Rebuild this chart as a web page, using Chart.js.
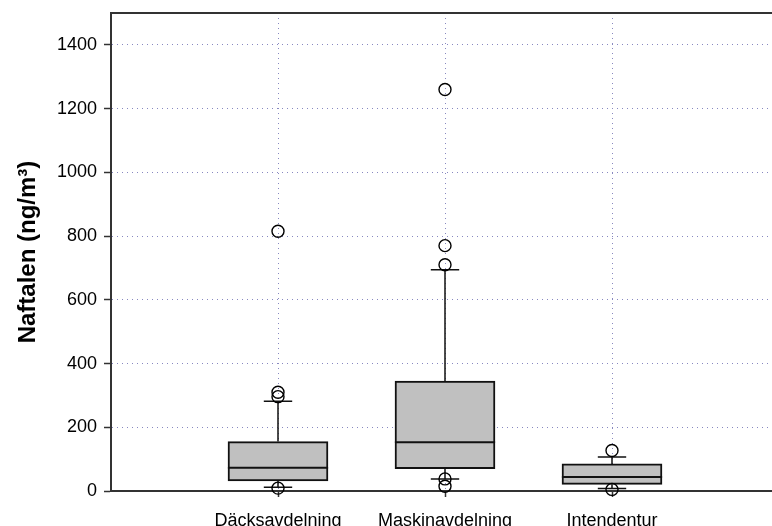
<!DOCTYPE html>
<html>
<head>
<meta charset="utf-8">
<script src="https://cdn.jsdelivr.net/npm/chart.js@4.4.1/dist/chart.umd.min.js"></script>
<style>
  html, body { margin: 0; padding: 0; background: #ffffff; }
  #chart { display: block; }
</style>
</head>
<body>
<canvas id="chart" width="772" height="526"></canvas>
<script>
// Naphthalene concentrations per ship department (ng/m3)
const categories = ['Däcksavdelning', 'Maskinavdelning', 'Intendentur'];
const whiskerLow  = [12, 38, 8];
const q1          = [32, 70, 21];
const median      = [73, 153, 44];
const q3          = [155, 345, 85];
const whiskerHigh = [282, 694, 107];
const outliers = [
  [815, 310, 296, 9],
  [1260, 770, 710, 38, 15],
  [127, 5]
];
const yTicks = [0, 200, 400, 600, 800, 1000, 1200, 1400];
const yMax = 1500;

// x positions of the groups on a linear axis (group i sits at i + 1)
const xPos = categories.map((_, i) => i + 1);
const BOX_HALF = 0.3;   // half box width in axis units
const CAP_HALF = 0.085; // half whisker-cap width in axis units

const GAP = { x: NaN, y: null };

const boxData = xPos.map((x, i) => ({ x, y: [q1[i], q3[i]] }));

const whiskerData = [];
xPos.forEach((x, i) => {
  whiskerData.push({ x, y: q3[i] }, { x, y: whiskerHigh[i] }, GAP);
  whiskerData.push({ x, y: q1[i] }, { x, y: whiskerLow[i] }, GAP);
  whiskerData.push({ x: x - CAP_HALF, y: whiskerHigh[i] }, { x: x + CAP_HALF, y: whiskerHigh[i] }, GAP);
  whiskerData.push({ x: x - CAP_HALF, y: whiskerLow[i] }, { x: x + CAP_HALF, y: whiskerLow[i] }, GAP);
});

const medianData = [];
xPos.forEach((x, i) => {
  medianData.push({ x: x - BOX_HALF, y: median[i] }, { x: x + BOX_HALF, y: median[i] }, GAP);
});

const outlierData = [];
xPos.forEach((x, i) => outliers[i].forEach(v => outlierData.push({ x, y: v })));

const FONT = "'Liberation Sans', Arial, Helvetica, sans-serif";
const GRID = '#8888c0';
const AXIS = '#333333';

// scales keep their own size but add no extra edge padding to the layout
const noEdgePadding = s => {
  s.paddingTop = 0; s.paddingBottom = 0; s.paddingLeft = 0; s.paddingRight = 0;
};

new Chart(document.getElementById('chart'), {
  data: {
    datasets: [
      {
        type: 'scatter',
        data: outlierData,
        pointStyle: 'circle',
        pointRadius: 6,
        pointHoverRadius: 6,
        borderColor: '#000000',
        backgroundColor: 'rgba(0,0,0,0)',
        borderWidth: 1.4,
        showLine: false,
        clip: false
      },
      {
        type: 'line',
        data: medianData,
        borderColor: '#111111',
        borderWidth: 2,
        pointRadius: 0,
        spanGaps: false,
        clip: false
      },
      {
        type: 'line',
        data: whiskerData,
        borderColor: '#111111',
        borderWidth: 1.5,
        pointRadius: 0,
        spanGaps: false,
        clip: false
      },
      {
        type: 'bar',
        data: boxData,
        backgroundColor: '#c0c0c0',
        borderColor: '#111111',
        borderWidth: 2,
        borderSkipped: false,
        barThickness: 100
      }
    ]
  },
  options: {
    responsive: false,
    animation: false,
    devicePixelRatio: 1,
    layout: { autoPadding: false, padding: { top: 13, right: 0, left: 0, bottom: 0 } },
    plugins: { legend: { display: false }, tooltip: { enabled: false } },
    scales: {
      x: {
        type: 'linear',
        position: 'bottom',
        offset: false,
        min: 0,
        max: 661 / 167,
        afterBuildTicks: s => { s.ticks = xPos.map(v => ({ value: v })); },
        afterFit: s => { s.height = 35; noEdgePadding(s); },
        ticks: {
          autoSkip: false,
          maxRotation: 0,
          padding: 13,
          color: '#000000',
          font: { family: FONT, size: 18 },
          callback: v => categories[v - 1]
        },
        grid: {
          offset: false,
          color: GRID,
          lineWidth: 1,
          drawTicks: true,
          tickLength: 6,
          tickColor: AXIS,
          tickWidth: 1.5,
          tickBorderDash: []
        },
        border: { display: true, color: AXIS, width: 2, dash: [1, 4] }
      },
      xTop: {
        type: 'linear',
        position: 'top',
        min: 0,
        max: 1,
        afterFit: s => { s.height = 0; noEdgePadding(s); },
        ticks: { display: false },
        grid: { display: false, drawTicks: false },
        border: { display: true, color: AXIS, width: 2 }
      },
      y: {
        type: 'linear',
        min: 0,
        max: yMax,
        afterBuildTicks: s => { s.ticks = yTicks.map(v => ({ value: v })); },
        afterFit: s => { s.width = 111; noEdgePadding(s); },
        ticks: {
          padding: 7,
          color: '#000000',
          font: { family: FONT, size: 18 },
          callback: v => String(v)
        },
        grid: {
          color: GRID,
          lineWidth: 1,
          drawTicks: true,
          tickLength: 7,
          tickColor: AXIS,
          tickWidth: 1.5,
          tickBorderDash: []
        },
        border: { display: true, color: AXIS, width: 2, dash: [1, 4] },
        title: {
          display: true,
          text: 'Naftalen (ng/m³)',
          color: '#000000',
          font: { family: FONT, size: 24, weight: 'bold' },
          padding: { top: 14, bottom: 0 }
        }
      }
    }
  }
});
</script>
</body>
</html>
